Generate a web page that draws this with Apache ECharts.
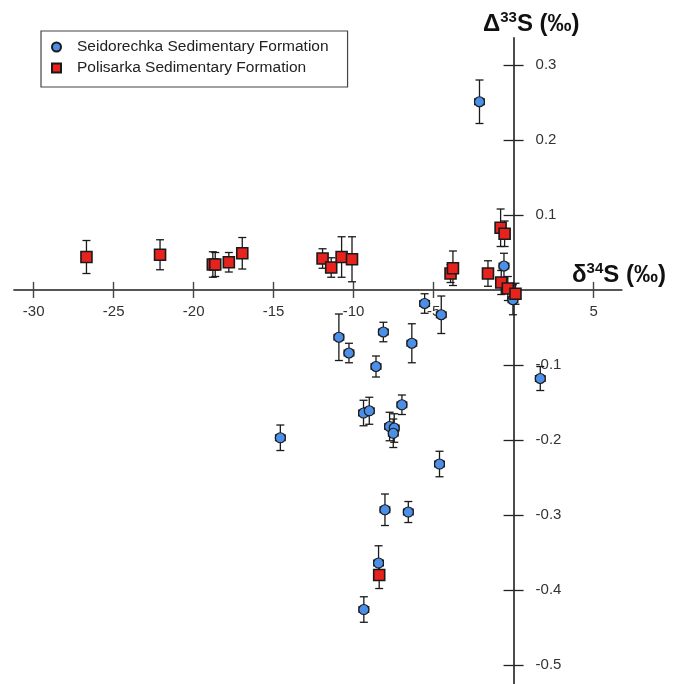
<!DOCTYPE html>
<html><head><meta charset="utf-8">
<script src="https://cdn.jsdelivr.net/npm/echarts@6/dist/echarts.min.js"></script>
<style>html,body{margin:0;padding:0;background:#fff}#c{width:675px;height:684px}</style>
</head><body><div id="c"></div>
<script>
// Seidorechka Sedimentary Formation (blue circles)
const seidD34 = [-2.13, -0.60, -0.04, -5.56, -4.52, -10.92, -10.29, -8.14, -8.60, -6.36, -9.38, -9.02, -6.98, -7.75, -7.46, -7.52, -14.58, -4.63, -8.04, -6.58, -8.44, -9.36, 1.67];
const seidD33 = [0.251, 0.032, -0.013, -0.018, -0.033, -0.063, -0.084, -0.056, -0.102, -0.071, -0.164, -0.161, -0.153, -0.182, -0.184, -0.191, -0.197, -0.232, -0.293, -0.296, -0.364, -0.426, -0.118];
const seidErr33 = [0.029, 0.017, 0.020, 0.013, 0.025, 0.031, 0.013, 0.013, 0.014, 0.026, 0.017, 0.018, 0.013, 0.019, 0.019, 0.019, 0.017, 0.017, 0.021, 0.014, 0.023, 0.017, 0.016];
const seidErr34 = [0.3, 0.3, 0.3, 0.3, 0.3, 0.3, 0.3, 0.3, 0.3, 0.3, 0.3, 0.3, 0.3, 0.3, 0.3, 0.3, 0.3, 0.3, 0.3, 0.3, 0.3, 0.3, 0.3];

// Polisarka Sedimentary Formation (red squares)
const polD34 = [-26.7, -22.1, -18.8, -18.65, -17.8, -16.96, -11.94, -11.4, -10.75, -10.1, -3.94, -3.79, -1.6, -0.81, -0.56, -0.77, -0.36, 0.12, -8.40];
const polD33 = [0.044, 0.047, 0.034, 0.034, 0.037, 0.049, 0.042, 0.030, 0.044, 0.041, 0.022, 0.029, 0.022, 0.083, 0.075, 0.010, 0.002, -0.005, -0.380];
const polErr33 = [0.022, 0.020, 0.017, 0.016, 0.013, 0.021, 0.013, 0.013, 0.027, 0.030, 0.012, 0.023, 0.017, 0.025, 0.017, 0.016, 0.016, 0.014, 0.018];
const polErr34 = [0.3, 0.3, 0.3, 0.3, 0.3, 0.3, 0.3, 0.3, 0.3, 0.3, 0.3, 0.3, 0.3, 0.3, 0.3, 0.3, 0.3, 0.3, 0.3];

const xTickValues = [-30, -25, -20, -15, -10, -5, 5];
const yTickValues = [0.3, 0.2, 0.1, -0.1, -0.2, -0.3, -0.4, -0.5];
const seriesNames = ['Seidorechka Sedimentary Formation', 'Polisarka Sedimentary Formation'];

const FONT = '"Liberation Sans", Arial, Helvetica, sans-serif';
const X_MIN = -31.23, X_MAX = 6.76, Y_MIN = -0.5253, Y_MAX = 0.3364;

function zip(xs, ys, ye, xe) {
  return xs.map((v, i) => [v, ys[i], ye[i], xe[i]]);
}
const seidData = zip(seidD34, seidD33, seidErr33, seidErr34);
const polData = zip(polD34, polD33, polErr33, polErr34);

function renderErr(params, api) {
  const x = api.value(0), y = api.value(1), ye = api.value(2), xe = api.value(3);
  const top = api.coord([x, y + ye]);
  const bot = api.coord([x, y - ye]);
  const l = api.coord([x - xe, y]);
  const r = api.coord([x + xe, y]);
  const cw = 4, ch = 3.5;
  const st = { stroke: '#1a1a1a', lineWidth: 1.3 };
  const ln = (x1, y1, x2, y2) => ({ type: 'line', shape: { x1, y1, x2, y2 }, style: st });
  return {
    type: 'group',
    children: [
      ln(top[0], top[1], bot[0], bot[1]),
      ln(top[0] - cw, top[1], top[0] + cw, top[1]),
      ln(bot[0] - cw, bot[1], bot[0] + cw, bot[1]),
      ln(l[0], l[1], r[0], r[1]),
      ln(l[0], l[1] - ch, l[0], l[1] + ch),
      ln(r[0], r[1] - ch, r[0], r[1] + ch)
    ]
  };
}

const chart = echarts.init(document.getElementById('c'), null, { renderer: 'canvas' });

const xCommon = { type: 'value', min: X_MIN, max: X_MAX, splitLine: { show: false } };
const yCommon = { type: 'value', min: Y_MIN, max: Y_MAX, splitLine: { show: false } };
const xTickStyle = { show: true, length: 8, customValues: xTickValues, lineStyle: { color: '#444', width: 1.4 } };
const yTickStyle = { show: true, length: 10, customValues: yTickValues, lineStyle: { color: '#222', width: 1.3 } };

chart.setOption({
  animation: false,
  backgroundColor: '#ffffff',
  grid: { left: 14, right: 53.3, top: 37.7, bottom: 0, containLabel: false, outerBoundsMode: 'none' },
  xAxis: [
    Object.assign({}, xCommon, {
      position: 'bottom', offset: 0,
      axisLine: { show: true, onZero: false, lineStyle: { color: '#555', width: 1.8 } },
      axisTick: xTickStyle,
      axisLabel: { show: true, margin: 14, customValues: xTickValues, fontSize: 15, color: '#333', fontFamily: FONT,
        formatter: v => String(v) }
    }),
    Object.assign({}, xCommon, {
      position: 'top', offset: 0,
      axisLine: { show: false, onZero: false },
      axisTick: xTickStyle,
      axisLabel: { show: false }
    })
  ],
  yAxis: [
    Object.assign({}, yCommon, {
      position: 'right', offset: 0,
      axisLine: { show: true, onZero: false, lineStyle: { color: '#111', width: 1.5 } },
      axisTick: yTickStyle,
      axisLabel: { show: true, margin: 22, customValues: yTickValues, fontSize: 15, color: '#333', fontFamily: FONT,
        formatter: v => String(v) }
    }),
    Object.assign({}, yCommon, {
      position: 'left', offset: 0,
      axisLine: { show: false, onZero: false },
      axisTick: yTickStyle,
      axisLabel: { show: false }
    })
  ],
  legend: {
    orient: 'vertical',
    left: 41, top: 31,
    padding: [8, 19, 11, 10],
    itemGap: 5,
    itemWidth: 9, itemHeight: 9,
    backgroundColor: '#fff',
    borderColor: '#444', borderWidth: 1.2, borderRadius: 0,
    textStyle: { fontSize: 15.5, color: '#222', fontFamily: FONT, padding: [0, 0, 0, 11] },
    data: [
      { name: seriesNames[0], icon: 'circle' },
      { name: seriesNames[1], icon: 'rect' }
    ]
  },
  graphic: [
    {
      type: 'text', left: 483, top: 10, z: 100,
      style: {
        text: '{a|Δ}{s|33}{a|S (‰)}',
        fill: '#111',
        rich: {
          a: { fontSize: 24, fontWeight: 'bold', fontFamily: FONT, lineHeight: 28, fill: '#111' },
          s: { fontSize: 15, fontWeight: 'bold', fontFamily: FONT, lineHeight: 20, verticalAlign: 'top', fill: '#111' }
        }
      }
    },
    {
      type: 'text', left: 572, top: 261, z: 100,
      style: {
        text: '{a|δ}{s|34}{a|S (‰)}',
        fill: '#111',
        rich: {
          a: { fontSize: 24, fontWeight: 'bold', fontFamily: FONT, lineHeight: 28, fill: '#111' },
          s: { fontSize: 15, fontWeight: 'bold', fontFamily: FONT, lineHeight: 20, verticalAlign: 'top', fill: '#111' }
        }
      }
    }
  ],
  series: [
    {
      name: 'seidErr', type: 'custom', renderItem: renderErr, data: seidData,
      encode: { x: 0, y: 1 }, z: 3, silent: true
    },
    {
      name: 'polErr', type: 'custom', renderItem: renderErr, data: polData,
      encode: { x: 0, y: 1 }, z: 3, silent: true
    },
    {
      name: seriesNames[0], type: 'scatter', symbol: 'circle', symbolSize: 10,
      data: seidData.map(d => [d[0], d[1]]), z: 5,
      itemStyle: { color: '#4C8FE8', borderColor: '#1a1a1a', borderWidth: 1.2, opacity: 1 }
    },
    {
      name: seriesNames[1], type: 'scatter', symbol: 'rect', symbolSize: 11,
      data: polData.map(d => [d[0], d[1]]), z: 5,
      itemStyle: { color: '#E8231E', borderColor: '#1a1a1a', borderWidth: 1.6, opacity: 1 }
    }
  ]
});

// Place the axes so they cross at the data origin, using the library's own scales.
const origin = chart.convertToPixel({ gridIndex: 0 }, [0, 0]);
const lb = chart.convertToPixel({ gridIndex: 0 }, [X_MIN, Y_MIN]);
const rt = chart.convertToPixel({ gridIndex: 0 }, [X_MAX, Y_MAX]);
chart.setOption({
  xAxis: [
    { offset: origin[1] - lb[1] },
    { offset: rt[1] - origin[1] }
  ],
  yAxis: [
    { offset: origin[0] - rt[0] },
    { offset: lb[0] - origin[0] }
  ]
});
</script>
</body></html>
